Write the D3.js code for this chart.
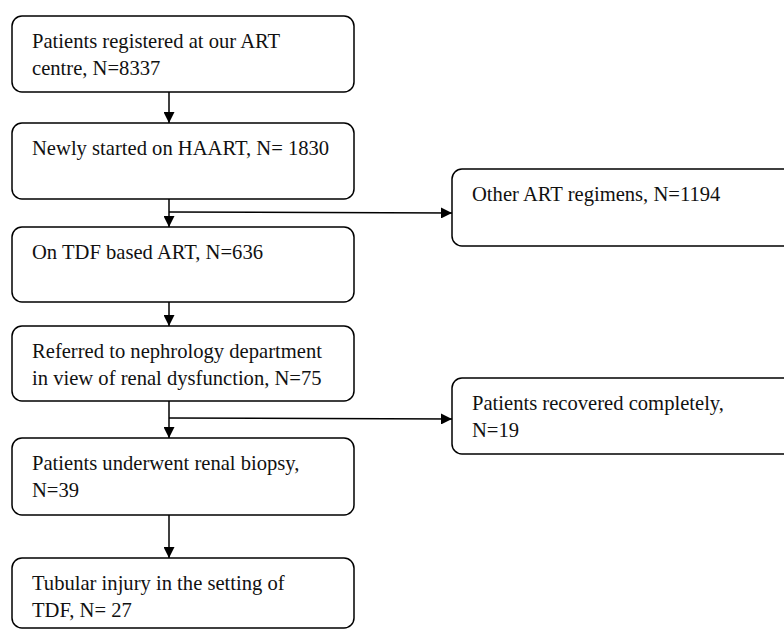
<!DOCTYPE html>
<html>
<head>
<meta charset="utf-8">
<script src="https://cdn.jsdelivr.net/npm/d3@7"></script>
<style>
  body { margin: 0; background: #fff; }
  svg text { font-family: "Liberation Serif", "Times New Roman", serif; font-size: 20.6px; fill: #111; }
</style>
</head>
<body>
<div id="chart"></div>
<script>
// flow steps, N counts go in place of %
var mainLines = [
  ["Patients registered at our ART", "centre, N=%"],
  ["Newly started on HAART, N= %"],
  ["On TDF based ART, N=%"],
  ["Referred to nephrology department", "in view of renal dysfunction, N=%"],
  ["Patients underwent renal biopsy,", "N=%"],
  ["Tubular injury in the setting of", "TDF, N= %"]
];
var mainCounts = [8337, 1830, 636, 75, 39, 27];

var sideLines = [
  ["Other ART regimens, N=%"],
  ["Patients recovered completely,", "N=%"]
];
var sideCounts = [1194, 19];
var sideFrom = [1, 3]; // which main step the side branch leaves from

var config = {
  width: 784, height: 630,
  boxX: 12, boxW: 342,
  sideX: 452, sideW: 360,
  stemX: 169,
  radius: 10
}
// box tops and heights
var mainTops = [16, 123, 227, 326, 438, 558];
var mainH = [76, 76, 75, 75, 77, 70];
var sideTops = [169, 378];
var sideH = [77, 76];
var branchY = [212, 418];

var svg = d3.select("#chart").append("svg")
  .attr("width", config.width)
  .attr("height", config.height);

var defs = svg.append("defs");
defs.append("marker")
  .attr("id", "head")
  .attr("viewBox", "0 0 10 10")
  .attr("refX", 10)
  .attr("refY", 5)
  .attr("markerUnits", "userSpaceOnUse")
  .attr("markerWidth", 11)
  .attr("markerHeight", 11)
  .attr("orient", "auto")
  .append("path")
  .attr("d", "M0,0L10,5L0,10Z")
  .attr("fill", "#000");

function fill(lines, n) {
  return lines.map(function(s) { return s.replace("%", n); });
}

function drawBox(x, y, w, h, lines) {
  var g = svg.append("g").attr("transform", "translate(" + x + "," + y + ")");
  g.append("rect")
    .attr("x", 0).attr("y", 0)
    .attr("width", w).attr("height", h)
    .attr("rx", config.radius).attr("ry", config.radius)
    .attr("fill", "#fff")
    .attr("stroke", "#000")
    .attr("stroke-width", 1.5);
  g.selectAll("text").data(lines).enter().append("text")
    .attr("x", 20)
    .attr("y", function(d, i) { return 32 + i * 26.5; })
    .text(function(d) { return d; });
}

// arrows first so boxes sit on top
mainTops.forEach(function(t, i) {
  if (i == 0) return;
  var y0 = mainTops[i - 1] + mainH[i - 1];
  svg.append("line")
    .attr("x1", config.stemX).attr("y1", y0)
    .attr("x2", config.stemX).attr("y2", t)
    .attr("stroke", "#000").attr("stroke-width", 1.5)
    .attr("marker-end", "url(#head)");
});

sideFrom.forEach(function(s, i) {
  svg.append("line")
    .attr("x1", config.stemX).attr("y1", branchY[i])
    .attr("x2", config.sideX).attr("y2", branchY[i] + 1)
    .attr("stroke", "#000").attr("stroke-width", 1.5)
    .attr("marker-end", "url(#head)");
});

mainLines.forEach(function(l, i) {
  drawBox(config.boxX, mainTops[i], config.boxW, mainH[i], fill(l, mainCounts[i]));
});
sideLines.forEach(function(l, i) {
  drawBox(config.sideX, sideTops[i], config.sideW, sideH[i], fill(l, sideCounts[i]));
});
</script>
</body>
</html>
